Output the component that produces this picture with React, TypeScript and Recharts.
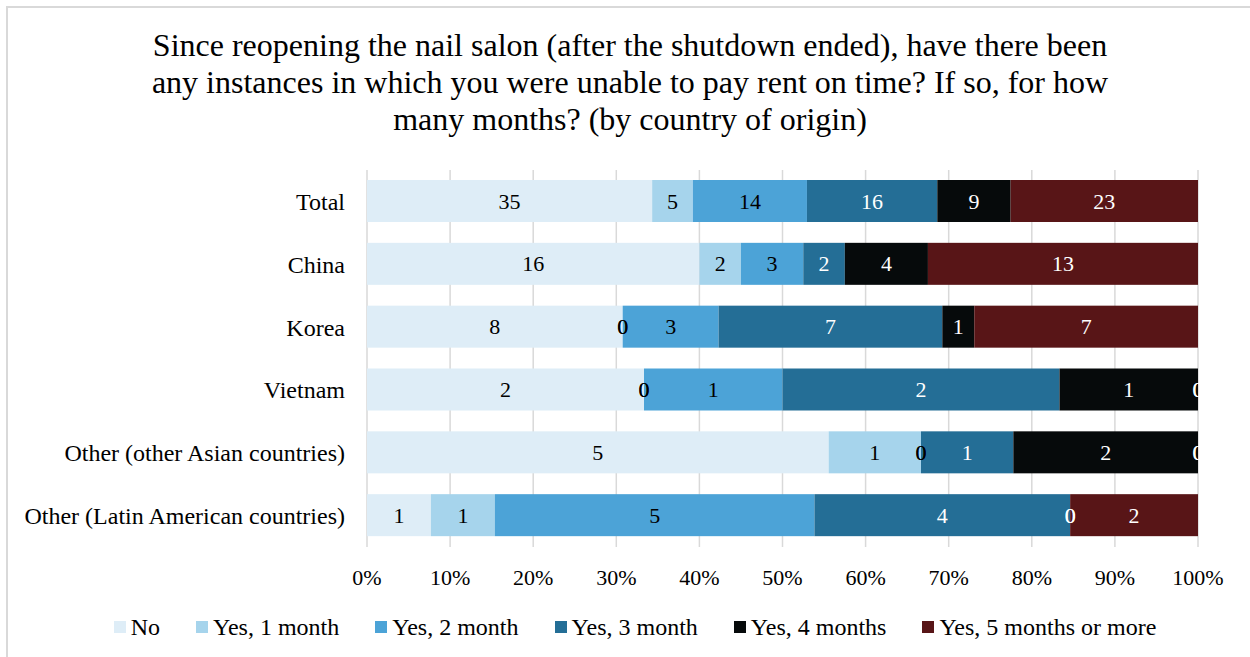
import React from 'react';
import { BarChart, Bar, XAxis, YAxis, CartesianGrid, LabelList, Legend } from 'recharts';

const TITLE_LINES = [
  'Since reopening the nail salon (after the shutdown ended), have there been',
  'any instances in which you were unable to pay rent on time? If so, for how',
  'many months? (by country of origin)',
];

const categories = [
  'Total',
  'China',
  'Korea',
  'Vietnam',
  'Other (other Asian countries)',
  'Other (Latin American countries)',
];

const seriesNames = ['No', 'Yes, 1 month', 'Yes, 2 month', 'Yes, 3 month', 'Yes, 4 months', 'Yes, 5 months or more'];
const seriesKeys = ['no', 'm1', 'm2', 'm3', 'm4', 'm5'];
const seriesColors = ['#deedf7', '#a6d4ec', '#4ca3d7', '#246e96', '#060a0b', '#581517'];
const labelColors = ['#000000', '#000000', '#000000', '#ffffff', '#ffffff', '#ffffff'];

const noVals = [35, 16, 8, 2, 5, 1];
const month1Vals = [5, 2, 0, 0, 1, 1];
const month2Vals = [14, 3, 3, 1, 0, 5];
const month3Vals = [16, 2, 7, 2, 1, 4];
const month4Vals = [9, 4, 1, 1, 2, 0];
const month5Vals = [23, 13, 7, 0, 0, 2];

const xTicks = [0, 0.1, 0.2, 0.3, 0.4, 0.5, 0.6, 0.7, 0.8, 0.9, 1];

const seriesValues = [noVals, month1Vals, month2Vals, month3Vals, month4Vals, month5Vals];

const data = categories.map((name, i) => {
  const row: Record<string, string | number> = { name };
  seriesKeys.forEach((k, s) => {
    row[k] = seriesValues[s][i];
  });
  return row;
});

const FONT = "'Liberation Serif', 'Times New Roman', serif";
const LABEL_STYLE = { fontSize: 22, fontFamily: FONT };

const zeroText = (x: number, y: number, color: string, key: string) => (
  <text key={key} x={x} y={y} textAnchor="middle" dominantBaseline="central" fill={color} style={LABEL_STYLE}>
    0
  </text>
);

// Bar shape: draws the segment, plus "0" labels for empty neighbouring segments
// (Recharts does not label zero-width segments).
const makeShape = (s: number) => (props: any) => {
  const { x, y, width, height, fill, payload } = props;
  if (x == null || y == null) return null;
  const cy = y + height / 2;
  const extras: React.ReactNode[] = [];
  if (payload) {
    // zero segments immediately before this one sit at its left edge
    for (let t = s - 1; t >= 0 && payload[seriesKeys[t]] === 0; t--) {
      extras.push(zeroText(x, cy, labelColors[t], `b${t}`));
    }
    // trailing zero segments sit at the right edge of the last filled one
    let trailing = true;
    for (let t = s + 1; t < seriesKeys.length; t++) {
      if (payload[seriesKeys[t]] !== 0) trailing = false;
    }
    if (trailing) {
      for (let t = s + 1; t < seriesKeys.length; t++) {
        extras.push(zeroText(x + width, cy, labelColors[t], `a${t}`));
      }
    }
  }
  return (
    <g>
      <rect x={x} y={y} width={Math.max(0, width)} height={height} fill={fill} />
      {extras}
    </g>
  );
};

const makeLabel = (color: string) => (props: any) => {
  const vb = props.viewBox || {};
  const x = (vb.x ?? props.x ?? 0) + (vb.width ?? props.width ?? 0) / 2;
  const y = (vb.y ?? props.y ?? 0) + (vb.height ?? props.height ?? 0) / 2;
  return (
    <text x={x} y={y} textAnchor="middle" dominantBaseline="central" fill={color} style={LABEL_STYLE}>
      {String(props.value)}
    </text>
  );
};

const renderLegend = () => (
  <div
    style={{
      display: 'flex',
      justifyContent: 'center',
      alignItems: 'center',
      height: 44,
      fontFamily: FONT,
      fontSize: 24,
      color: '#000',
      gap: 36,
      whiteSpace: 'nowrap',
    }}
  >
    {seriesNames.map((n, i) => (
      <div key={n} style={{ display: 'flex', alignItems: 'center' }}>
        <span
          style={{
            display: 'inline-block',
            width: 12,
            height: 12,
            background: seriesColors[i],
            marginRight: 5,
          }}
        />
        <span>{n}</span>
      </div>
    ))}
  </div>
);

export default function App() {
  return (
    <div style={{ position: 'absolute', left: 0, top: 0, width: 1250, height: 657, background: '#fff' }}>
      <div
        style={{
          position: 'absolute',
          left: 6,
          top: 6,
          width: 1260,
          height: 670,
          border: '2px solid #d9d9d9',
          boxSizing: 'border-box',
        }}
      />
      <div
        style={{
          position: 'absolute',
          left: 0,
          top: 27,
          width: 1260,
          textAlign: 'center',
          fontFamily: FONT,
          fontSize: 32,
          lineHeight: '37px',
          color: '#000',
        }}
      >
        {TITLE_LINES.map((l) => (
          <div key={l}>{l}</div>
        ))}
      </div>
      <div style={{ position: 'absolute', left: 0, top: 0 }}>
        <BarChart
          width={1250}
          height={657}
          data={data}
          layout="vertical"
          stackOffset="expand"
          margin={{ top: 170, right: 52, left: 0, bottom: 10 }}
        >
          <CartesianGrid horizontal={false} stroke="#d9d9d9" strokeWidth={1.5} />
          <XAxis
            type="number"
            domain={[0, 1]}
            ticks={xTicks}
            tickFormatter={(v: number) => `${Math.round(v * 100)}%`}
            axisLine={false}
            tickLine={false}
            tickSize={0}
            tickMargin={22}
            height={56}
            interval={0}
            tick={{ fontSize: 22, fill: '#000', fontFamily: FONT }}
          />
          <YAxis
            type="category"
            dataKey="name"
            width={367}
            axisLine={false}
            tickLine={false}
            tickSize={0}
            tickMargin={22}
            interval={0}
            tick={{ fontSize: 24, fill: '#000', fontFamily: FONT }}
          />
          <Legend
            verticalAlign="bottom"
            content={renderLegend}
            wrapperStyle={{ position: 'absolute', left: 0, top: 605, width: 1270, height: 44 }}
          />
          {seriesKeys.map((k, i) => (
            <Bar
              key={k}
              dataKey={k}
              name={seriesNames[i]}
              stackId="a"
              fill={seriesColors[i]}
              barSize={42}
              shape={makeShape(i)}
              isAnimationActive={false}
            >
              <LabelList dataKey={k} position="center" content={makeLabel(labelColors[i])} />
            </Bar>
          ))}
        </BarChart>
      </div>
    </div>
  );
}
